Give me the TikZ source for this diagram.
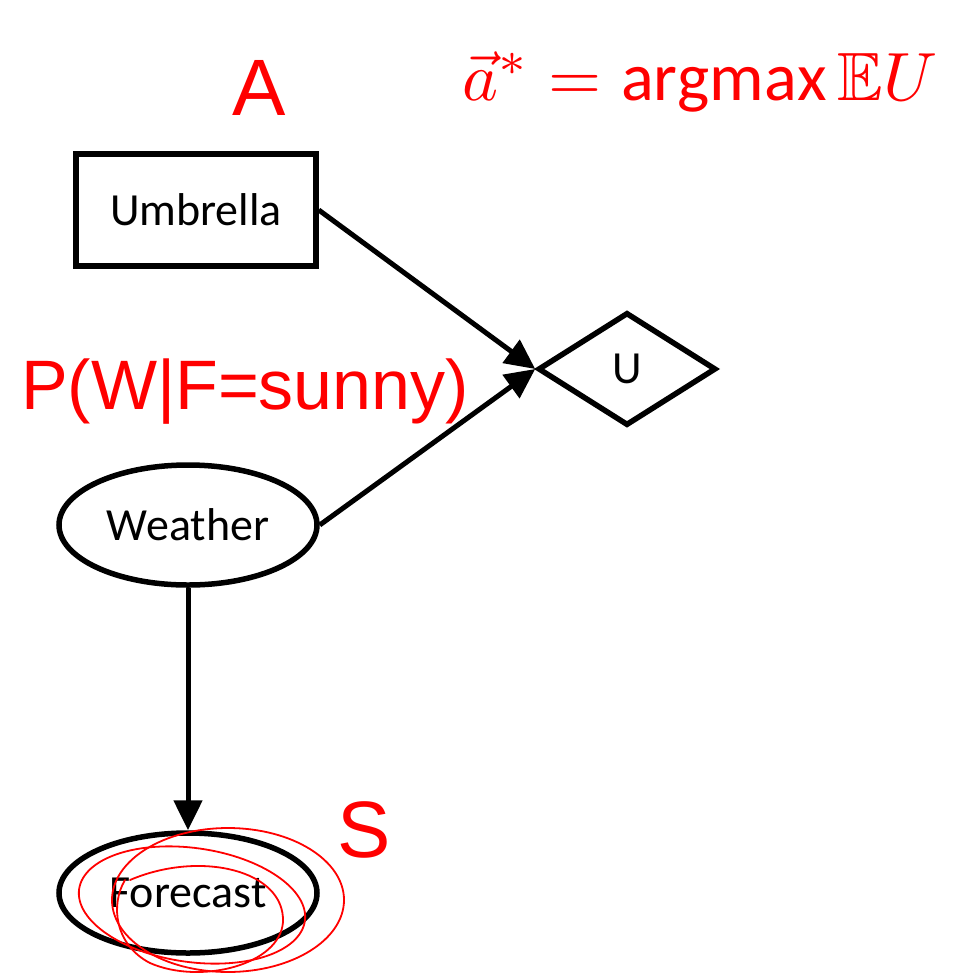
\documentclass[tikz,border=0pt]{standalone}
\usepackage{amssymb}
\usepackage{graphicx}
\usepackage{fontspec}
\setmainfont{Carlito}
\newfontfamily\handfont{Liberation Sans}
\usetikzlibrary{shapes.geometric,arrows.meta}
\begin{document}
\begin{tikzpicture}[x=1pt,y=-1pt,
  nodebase/.style={line width=5.5pt,draw=black,font=\fontsize{46}{55}\selectfont,inner sep=0pt},
  rectnode/.style={nodebase,rectangle,minimum width=240pt,minimum height=112pt},
  ellnode/.style={nodebase,ellipse,minimum width=258pt,minimum height=120pt},
  dianode/.style={nodebase,diamond,minimum width=178pt,minimum height=113pt,aspect=1.6},
  conn/.style={line width=5pt,-{Triangle[length=30pt,width=28pt]}},
  ink/.style={red,line width=1.8pt,line cap=round},
  hand/.style={red,inner sep=0pt,font=\handfont}
]
\useasboundingbox (0,0) rectangle (957,975);
\fill[white] (0,0) rectangle (957,975);

\node[rectnode] (umb) at (196,210) {Umbrella};
\node[dianode] (u) at (627,369) {U};
\node[ellnode] (wea) at (188,525) {Weather};
\node[ellnode] (fc) at (188,893) {Forecast};

\draw[conn] (umb.east) -- (u.west);
\draw[conn] (wea.east) -- (u.west);
\draw[conn] (wea.south) -- (fc.north);

% handwritten annotations
\node[hand,font=\handfont\fontsize{80}{90}\selectfont] (la) at (259,88) {A};
\node[hand] (lexp) at (700,82) {\resizebox{475pt}{!}{$\vec{a}^{*}=\mathrm{argmax}\,\mathbb{E}U$}};
\node[hand,font=\handfont\fontsize{70}{80}\selectfont] (lp) at (245,392) {P(W|F=sunny)};
\node[hand,font=\handfont\fontsize{80}{90}\selectfont] (ls) at (364,830) {S};

% red loops around Forecast
\draw[ink] (228,900) ellipse [x radius=116pt, y radius=72pt];
\draw[ink,rotate around={-8:(192,905)}] (192,905) ellipse [x radius=114pt, y radius=57pt];
\draw[ink] (130,880) .. controls (200,850) and (285,870) .. (283,922)
  .. controls (280,965) and (200,985) .. (150,963)
  .. controls (115,945) and (110,905) .. (125,880);
\end{tikzpicture}
\end{document}
